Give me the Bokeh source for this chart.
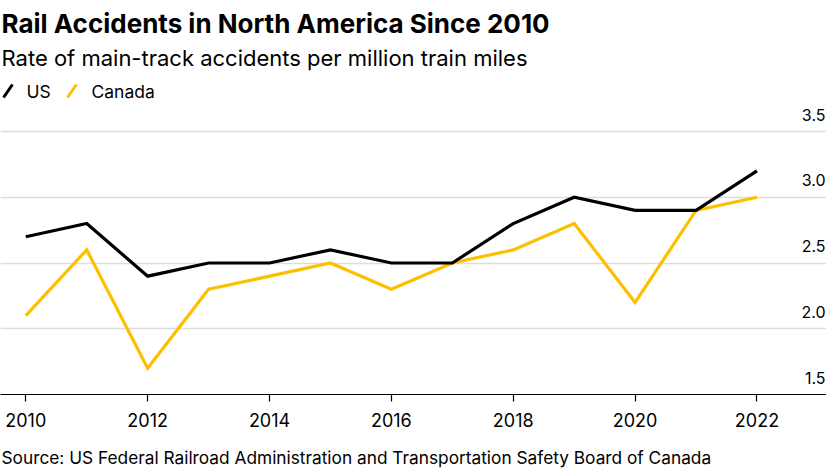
from bokeh.plotting import figure
from bokeh.layouts import column
from bokeh.models import Range1d, FixedTicker, Grid, Label, ColumnDataSource, Title, Arrow
from bokeh.core.properties import value
from bokeh.embed import file_html
from bokeh.resources import INLINE

# ---- data ----
years = list(range(2010, 2023))
us = [2.7, 2.8, 2.4, 2.5, 2.5, 2.6, 2.5, 2.5, 2.8, 3.0, 2.9, 2.9, 3.2]
canada = [2.1, 2.6, 1.7, 2.3, 2.4, 2.5, 2.3, 2.5, 2.6, 2.8, 2.2, 2.9, 3.0]
x_ticks = [2010, 2012, 2014, 2016, 2018, 2020, 2022]
y_ticks = [1.5, 2.0, 2.5, 3.0, 3.5]
y_tick_labels = ["1.5", "2.0", "2.5", "3.0", "3.5"]
grid_ticks = [2.0, 2.5, 3.0, 3.5]
series_names = ["US", "Canada"]

title = "Rail Accidents in North America Since 2010"
subtitle = "Rate of main-track accidents per million train miles"
source = "Source: US Federal Railroad Administration and Transportation Safety Board of Canada"

FONT = "Inter"
BLACK = "#000000"
YELLOW = "#fcc000"

p = figure(width=826, height=440, output_backend="svg", toolbar_location=None,
           x_range=Range1d(2009.585, 2023.141), y_range=Range1d(1.5, 3.926),
           y_axis_location=None,
           min_border_left=0, min_border_right=0,
           min_border_top=75, min_border_bottom=46)
p.outline_line_color = None
p.background_fill_color = "white"
p.border_fill_color = "white"

for g in p.xgrid:
    g.visible = False
for g in p.ygrid:
    g.visible = False
p.add_layout(Grid(dimension=1, ticker=FixedTicker(ticks=grid_ticks),
                  grid_line_color="#dddddd", grid_line_width=1.5))

ax = p.xaxis[0]
ax.ticker = FixedTicker(ticks=x_ticks)
ax.axis_line_color = BLACK
ax.axis_line_width = 1.2
ax.major_tick_line_color = BLACK
ax.major_tick_line_width = 1.2
ax.major_tick_out = 7
ax.major_tick_in = 0
ax.minor_tick_line_color = None
ax.major_label_text_font = FONT
ax.major_label_text_font_size = "18px"
ax.major_label_text_color = BLACK
ax.major_label_standoff = 11

src = ColumnDataSource(dict(year=years, us=us, canada=canada))
p.line("year", "canada", source=src, line_color=YELLOW, line_width=3.2, line_join="miter")
p.line("year", "us", source=src, line_color=BLACK, line_width=3.2, line_join="miter")

# y tick labels above gridlines, right aligned
p.text(x=[p.x_range.end] * len(y_ticks), y=y_ticks, text=y_tick_labels,
       text_align="right", text_baseline="alphabetic", x_offset=-1, y_offset=-17,
       text_font=value(FONT), text_font_size="16px", text_color=BLACK)

# titles above (first added is closest to the frame)
p.add_layout(Title(text=subtitle, text_font=FONT, text_font_size="22px",
                   text_font_style="normal", text_color=BLACK, align="left",
                   vertical_align="top", offset=1, standoff=5), "above")
p.add_layout(Title(text=title, text_font=FONT, text_font_size="26px",
                   text_font_style="bold", text_color=BLACK, align="left",
                   vertical_align="top", offset=1, standoff=3), "above")

# legend (inside the frame, screen units from frame bottom-left)
p.add_layout(Arrow(end=None, x_start=3, y_start=297, x_end=12, y_end=310,
                   start_units="screen", end_units="screen",
                   line_color=BLACK, line_width=3))
p.add_layout(Label(x=26, y=303, x_units="screen", y_units="screen", text=series_names[0],
                   text_font=FONT, text_font_size="17.5px",
                   text_color=BLACK, text_baseline="alphabetic"))
p.add_layout(Arrow(end=None, x_start=67, y_start=297, x_end=76, y_end=310,
                   start_units="screen", end_units="screen",
                   line_color=YELLOW, line_width=3))
p.add_layout(Label(x=91, y=303, x_units="screen", y_units="screen", text=series_names[1],
                   text_font=FONT, text_font_size="17.5px",
                   text_color=BLACK, text_baseline="alphabetic"))

# source strip below the chart
s = figure(width=826, height=29, output_backend="svg", toolbar_location=None,
           x_range=Range1d(0, 1), y_range=Range1d(0, 1),
           x_axis_location=None, y_axis_location=None,
           min_border=0, min_border_left=0, min_border_right=0,
           min_border_top=0, min_border_bottom=0)
s.outline_line_color = None
s.grid.visible = False
s.border_fill_color = "white"
s.add_layout(Label(x=1, y=12, x_units="screen", y_units="screen", text=source,
                   text_font=FONT, text_font_size="17.3px",
                   text_color=BLACK, text_baseline="alphabetic"))

layout = column(p, s, spacing=0)
open("out.html", "w").write(file_html(layout, INLINE))
